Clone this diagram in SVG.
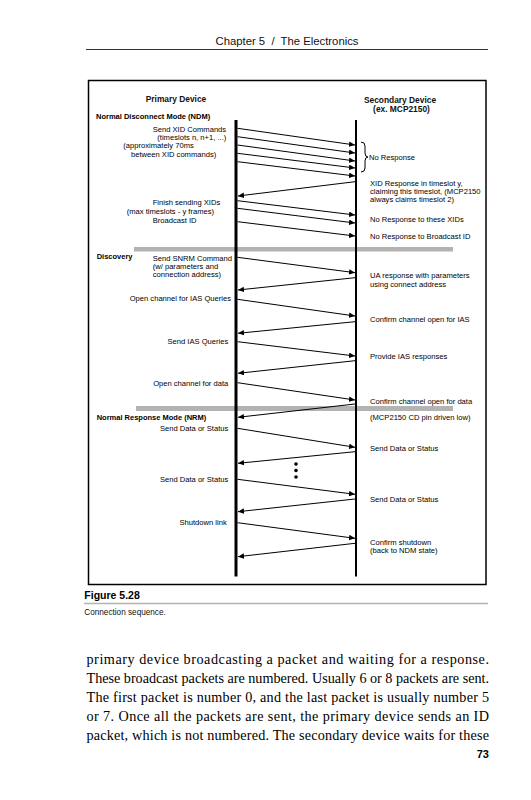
<svg xmlns="http://www.w3.org/2000/svg" width="531" height="800" viewBox="0 0 531 800">
<defs>
<marker id="ah" markerUnits="userSpaceOnUse" markerWidth="7" markerHeight="6" refX="6" refY="2.75" orient="auto">
<path d="M0,0 L6,2.75 L0,5.5 Z" fill="#000"/>
</marker>
<style>
.t{font-family:"Liberation Sans",Arial,sans-serif;font-size:7.6px;fill:#000}
.b{font-family:"Liberation Sans",Arial,sans-serif;font-size:7.5px;font-weight:bold;fill:#000}
.h{font-family:"Liberation Sans",Arial,sans-serif;font-size:8.4px;font-weight:bold;fill:#111}
.e{text-anchor:end}
.m{text-anchor:middle}
.a{stroke:#000;stroke-width:1;fill:none;marker-end:url(#ah)}
.body{font-family:"Liberation Serif","DejaVu Serif",serif;font-size:14.2px;fill:#000}
</style>
</defs>
<rect width="531" height="800" fill="#fff"/>
<g id="header">
<text x="287" y="45" font-family="Liberation Sans, Arial, sans-serif" font-size="11.3px" text-anchor="middle" fill="#111" xml:space="preserve">Chapter 5  /  The Electronics</text>
<line x1="86" y1="49.5" x2="488" y2="49.5" stroke="#333" stroke-width="1"/>
</g>
<g id="frame">
<rect x="88.5" y="80.5" width="397.5" height="504" fill="none" stroke="#000" stroke-width="1.5"/>
</g>
<g id="bars">
<rect x="134" y="247" width="319" height="4.5" fill="#b3b3b3"/>
<rect x="136" y="406" width="317" height="5" fill="#b3b3b3"/>
</g>
<g id="primary">
<text class="h m" x="176" y="102">Primary Device</text>
<line x1="236" y1="120" x2="236" y2="576.5" stroke="#000" stroke-width="3"/>
</g>
<g id="secondary">
<text class="h m" x="400" y="102.5">Secondary Device</text>
<text class="h m" x="401.5" y="112">(ex. MCP2150)</text>
<line x1="356" y1="120" x2="356" y2="576.5" stroke="#000" stroke-width="2"/>
</g>
<g id="connectors">
<line class="a" x1="237.5" y1="128.3" x2="355" y2="145"/>
<line class="a" x1="237.5" y1="136.7" x2="355" y2="153"/>
<line class="a" x1="237.5" y1="145" x2="355" y2="161"/>
<line class="a" x1="237.5" y1="153.3" x2="355" y2="168"/>
<line class="a" x1="237.5" y1="161.7" x2="355" y2="176"/>
<line class="a" x1="355" y1="181.7" x2="238" y2="196"/>
<line class="a" x1="237.5" y1="200.7" x2="355" y2="215"/>
<line class="a" x1="237.5" y1="208.3" x2="355" y2="223"/>
<line class="a" x1="237.5" y1="221.7" x2="355" y2="236"/>
<line class="a" x1="237.5" y1="257.3" x2="355" y2="272.7"/>
<line class="a" x1="355" y1="277.7" x2="238" y2="290"/>
<line class="a" x1="237.5" y1="299.3" x2="355" y2="316"/>
<line class="a" x1="355" y1="321.7" x2="238" y2="333.3"/>
<line class="a" x1="237.5" y1="341.7" x2="355" y2="356"/>
<line class="a" x1="355" y1="360.7" x2="238" y2="373.3"/>
<line class="a" x1="237.5" y1="382.7" x2="355" y2="400"/>
<line class="a" x1="355" y1="404" x2="238" y2="417.3"/>
<line class="a" x1="237.5" y1="428.3" x2="355" y2="447.3"/>
<line class="a" x1="355" y1="451.7" x2="238" y2="463.3"/>
<line class="a" x1="237.5" y1="479.3" x2="355" y2="494.3"/>
<line class="a" x1="355" y1="499" x2="238" y2="511.7"/>
<line class="a" x1="237.5" y1="522.7" x2="355" y2="538.3"/>
<line class="a" x1="355" y1="543.3" x2="238" y2="556.7"/>
<path d="M361,142 Q365,142 365,146 L365,153 Q365,157 368,157 Q365,157 365,161 L365,168 Q365,172 361,172" fill="none" stroke="#000" stroke-width="1"/>
</g>
<g id="dots" fill="#000">
<circle cx="296" cy="464" r="1.8"/>
<circle cx="296" cy="470.5" r="1.8"/>
<circle cx="296" cy="477" r="1.8"/>
</g>
<g id="left-labels">
<text class="b" x="96" y="119">Normal Disconnect Mode (NDM)</text>
<text class="t" x="152.7" y="131.5">Send XID Commands</text>
<text class="t" x="157.3" y="139.5">(timeslots n, n+1, ...)</text>
<text class="t" x="123.3" y="148">(approximately 70ms</text>
<text class="t" x="131" y="157">between XID commands)</text>
<text class="t" x="152.7" y="205">Finish sending XIDs</text>
<text class="t" x="126.7" y="214">(max timeslots - y frames)</text>
<text class="t" x="152.7" y="223">Broadcast ID</text>
<text class="b" x="96.7" y="259">Discovery</text>
<text class="t" x="152.7" y="261">Send SNRM Command</text>
<text class="t" x="152.7" y="269">(w/ parameters and</text>
<text class="t" x="152.7" y="277">connection address)</text>
<text class="t e" x="231" y="301">Open channel for IAS Queries</text>
<text class="t e" x="228.3" y="343.5">Send IAS Queries</text>
<text class="t e" x="228.3" y="385.5">Open channel for data</text>
<text class="b" x="96.7" y="420">Normal Response Mode (NRM)</text>
<text class="t e" x="228.3" y="431">Send Data or Status</text>
<text class="t e" x="228.3" y="481.5">Send Data or Status</text>
<text class="t e" x="226.7" y="524.5">Shutdown link</text>
</g>
<g id="right-labels">
<text class="t" x="369" y="159.5">No Response</text>
<text class="t" x="370" y="186">XID Response in timeslot y,</text>
<text class="t" x="370" y="194">claiming this timeslot, (MCP2150</text>
<text class="t" x="370" y="202">always claims timeslot 2)</text>
<text class="t" x="370" y="222">No Response to these XIDs</text>
<text class="t" x="370" y="238.5">No Response to Broadcast ID</text>
<text class="t" x="370" y="278">UA response with parameters</text>
<text class="t" x="370" y="287">using connect address</text>
<text class="t" x="370" y="321.5">Confirm channel open for IAS</text>
<text class="t" x="370" y="358.5">Provide IAS responses</text>
<text class="t" x="370" y="404">Confirm channel open for data</text>
<text class="t" x="370" y="420">(MCP2150 CD pin driven low)</text>
<text class="t" x="370" y="451">Send Data or Status</text>
<text class="t" x="370" y="501.5">Send Data or Status</text>
<text class="t" x="370" y="545">Confirm shutdown</text>
<text class="t" x="370" y="553">(back to NDM state)</text>
</g>
<g id="caption">
<text x="84.3" y="599" font-family="Liberation Sans, Arial, sans-serif" font-size="10.5px" font-weight="bold" fill="#000">Figure 5.28</text>
<line x1="84" y1="603.5" x2="488" y2="603.5" stroke="#b3b3b3" stroke-width="1.6"/>
<text x="84.3" y="614.5" font-family="Liberation Sans, Arial, sans-serif" font-size="8.2px" fill="#111">Connection sequence.</text>
</g>
<g id="body">
<text class="body" x="86.5" y="664" textLength="402.5" lengthAdjust="spacing">primary device broadcasting a packet and waiting for a response.</text>
<text class="body" x="86.5" y="683" textLength="402.5" lengthAdjust="spacing">These broadcast packets are numbered. Usually 6 or 8 packets are sent.</text>
<text class="body" x="86.5" y="702" textLength="402.5" lengthAdjust="spacing">The first packet is number 0, and the last packet is usually number 5</text>
<text class="body" x="86.5" y="721" textLength="402.5" lengthAdjust="spacing">or 7. Once all the packets are sent, the primary device sends an ID</text>
<text class="body" x="86.5" y="740" textLength="402.5" lengthAdjust="spacing">packet, which is not numbered. The secondary device waits for these</text>
<text x="489" y="758" font-family="Liberation Sans, Arial, sans-serif" font-size="11px" font-weight="bold" text-anchor="end" fill="#000">73</text>
</g>
</svg>
